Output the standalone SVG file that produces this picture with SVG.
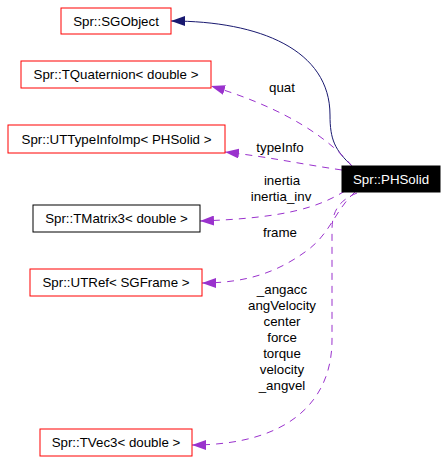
<svg xmlns="http://www.w3.org/2000/svg" width="447" height="474" viewBox="0 0 447 474">
<defs>
<style>
text{font-family:"Liberation Sans",Arial,sans-serif;font-size:13.3px;text-anchor:middle;fill:#000}
.box{fill:#fff;stroke:#ff0000;stroke-width:1}
.boxk{fill:#fff;stroke:#000;stroke-width:1}
.main{fill:#000;stroke:#000}
.wt{fill:#fff}
.inh{fill:none;stroke:#191970;stroke-width:1}
.use{fill:none;stroke:#9a32cd;stroke-width:1;stroke-dasharray:7,6}
</style>
<marker id="ah" markerUnits="userSpaceOnUse" markerWidth="14" markerHeight="10" refX="14" refY="5" orient="auto">
<path d="M0,0 L14,5 L0,10 z" fill="#191970"/>
</marker>
<marker id="ap" markerUnits="userSpaceOnUse" markerWidth="14" markerHeight="10" refX="14" refY="5" orient="auto">
<path d="M0,0 L14,5 L0,10 z" fill="#9a32cd"/>
</marker>
</defs>
<rect width="447" height="474" fill="#fff"/>
<g id="edges">
<path class="inh" d="M352,166 C335,150 330,140 330,115 C330,50 260,21 171,21" marker-end="url(#ah)"/>
<path class="use" d="M352,166 C330,140 290,110 211,86" marker-end="url(#ap)"/>
<path class="use" d="M342,170 C300,164 270,157 225,152" marker-end="url(#ap)"/>
<path class="use" d="M345,191 C320,206 290,218 200,221" marker-end="url(#ap)"/>
<path class="use" d="M355,192 C335,210 330,235 305,252 C280,270 250,283 202,283" marker-end="url(#ap)"/>
<path class="use" d="M357,193 C340,200 332,210 332,230 L332,340 C332,400 290,445 192,445" marker-end="url(#ap)"/>
<text x="282" y="92">quat</text>
<text x="280" y="152">typeInfo</text>
<text x="282" y="185">inertia</text>
<text x="281" y="201">inertia_inv</text>
<text x="280" y="237">frame</text>
<text x="282" y="294">_angacc</text>
<text x="282" y="310">angVelocity</text>
<text x="282" y="326">center</text>
<text x="282" y="342">force</text>
<text x="282" y="358">torque</text>
<text x="282" y="374">velocity</text>
<text x="282" y="390">_angvel</text>
</g>
<g id="PHSolid"><rect class="main" x="342" y="166" width="98" height="26"/><text class="wt" x="391" y="183.5">Spr::PHSolid</text></g>
<g id="SGObject"><rect class="box" x="61" y="8" width="110" height="26"/><text x="116" y="25.5">Spr::SGObject</text></g>
<g id="TQuaternion"><rect class="box" x="21" y="61" width="190" height="27"/><text x="116" y="79">Spr::TQuaternion&lt; double &gt;</text></g>
<g id="UTTypeInfoImp"><rect class="box" x="8" y="125" width="217" height="28"/><text x="116.5" y="143.5">Spr::UTTypeInfoImp&lt; PHSolid &gt;</text></g>
<g id="TMatrix3"><rect class="boxk" x="33" y="205" width="167" height="27"/><text x="116.5" y="223">Spr::TMatrix3&lt; double &gt;</text></g>
<g id="UTRef"><rect class="box" x="30" y="269" width="172" height="27"/><text x="116" y="287">Spr::UTRef&lt; SGFrame &gt;</text></g>
<g id="TVec3"><rect class="box" x="40" y="429" width="152" height="27"/><text x="116" y="447">Spr::TVec3&lt; double &gt;</text></g>
</svg>
